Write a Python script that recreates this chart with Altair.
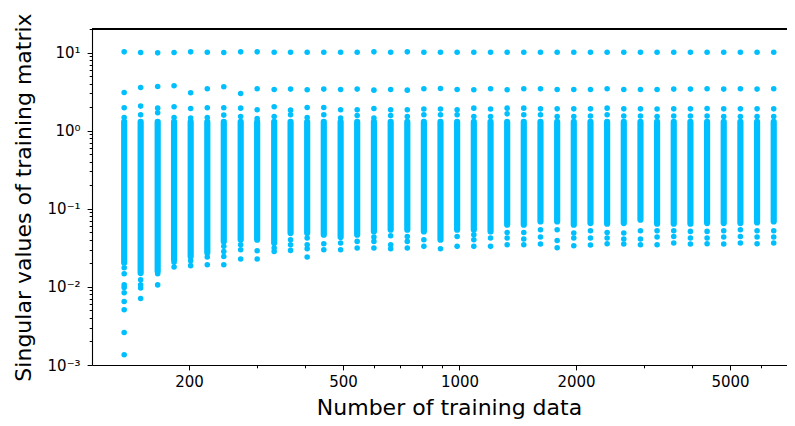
import altair as alt
import pandas as pd

# Number of training data (one column of points per value)
n_train = [136, 150, 166, 183, 202, 223, 246, 272, 300, 332, 366, 404, 446, 493,
           544, 601, 664, 733, 809, 893, 986, 1089, 1203, 1328, 1466, 1619, 1788,
           1974, 2180, 2407, 2658, 2935, 3240, 3578, 3951, 4363, 4817, 5319, 5874, 6486]

# Largest singular values (individually visible points)
sv_1 = [10.2, 10.0, 9.9, 10.0, 10.2, 10.1, 10.0, 10.2, 10.2, 10.1, 10.1, 10.1, 10.1, 10.1,
        10.1, 10.2, 10.1, 10.2, 10.1, 10.1, 10.1, 10.1, 10.1, 10.1, 10.1, 10.1, 10.1,
        10.1, 10.1, 10.1, 10.1, 10.1, 10.1, 10.1, 10.1, 10.1, 10.1, 10.1, 10.1, 10.1]
sv_2 = [3.08, 3.57, 3.67, 3.75, 3.05, 3.43, 3.64, 2.99, 3.43, 3.36, 3.40, 3.33, 3.40, 3.36,
        3.40, 3.30, 3.36, 3.30, 3.43, 3.46, 3.36, 3.33, 3.43, 3.33, 3.43, 3.43, 3.36,
        3.36, 3.36, 3.43, 3.36, 3.36, 3.36, 3.40, 3.40, 3.43, 3.40, 3.43, 3.40, 3.43]
sv_3 = [1.96, 2.06, 1.94, 2.02, 1.92, 1.96, 1.96, 1.94, 1.85, 2.02, 1.83, 1.98, 1.98, 1.85,
        1.85, 1.92, 1.85, 1.85, 1.89, 1.89, 1.85, 1.94, 1.89, 1.94, 1.94, 1.90, 1.90,
        1.90, 1.90, 1.94, 1.90, 1.90, 1.89, 1.90, 1.90, 1.92, 1.90, 1.90, 1.90, 1.90]
sv_4 = [1.47, 1.60, 1.69, 1.47, 1.45, 1.47, 1.58, 1.52, 1.43, 1.52, 1.60, 1.47, 1.60, 1.45,
        1.56, 1.45, 1.56, 1.52, 1.60, 1.60, 1.60, 1.52, 1.52, 1.64, 1.60, 1.60, 1.52,
        1.52, 1.54, 1.60, 1.54, 1.54, 1.52, 1.54, 1.54, 1.54, 1.52, 1.52, 1.52, 1.52]

# Dense run of singular values: top and bottom of the solid stack
band_top = [1.30, 1.30, 1.30, 1.30, 1.30, 1.30, 1.30, 1.30, 1.30, 1.30, 1.30, 1.30, 1.30, 1.30,
            1.30, 1.30, 1.30, 1.30, 1.30, 1.30, 1.30, 1.30, 1.30, 1.30, 1.30, 1.30, 1.30,
            1.30, 1.30, 1.30, 1.30, 1.30, 1.30, 1.30, 1.30, 1.30, 1.30, 1.30, 1.30, 1.30]
band_bottom = [0.0204, 0.0150, 0.0158, 0.0222, 0.0245, 0.0274, 0.0382, 0.0401, 0.0401, 0.0364,
               0.0489, 0.0489, 0.0465, 0.0434, 0.0465, 0.0513, 0.0539, 0.0539, 0.0513, 0.0401,
               0.0539, 0.0539, 0.0513, 0.0624, 0.0624, 0.0689, 0.0689, 0.0624, 0.0656, 0.0643,
               0.0656, 0.0723, 0.0643, 0.0643, 0.0643, 0.0656, 0.0656, 0.0656, 0.0668, 0.0689]

# Smallest singular values below the dense stack
tail_values = [
    [0.0176, 0.0147, 0.0106, 0.0098, 0.0084, 0.0065, 0.0051, 0.0026, 0.00135],
    [0.0123, 0.0106, 0.0097, 0.0071],
    [0.0147, 0.0106],
    [0.0206, 0.0180],
    [0.0216, 0.0187],
    [0.0241, 0.0192],
    [0.0330, 0.0284, 0.0245, 0.0192],
    [0.0346, 0.0299, 0.0227],
    [0.0290, 0.0227],
    [0.0314, 0.0284],
    [0.0401, 0.0346, 0.0293],
    [0.0422, 0.0346, 0.0308, 0.0241],
    [0.0357, 0.0299],
    [0.0364, 0.0299],
    [0.0382, 0.0314],
    [0.0434, 0.0382, 0.0314],
    [0.0451, 0.0346, 0.0308],
    [0.0442, 0.0382, 0.0314],
    [0.0401, 0.0330],
    [0.0308],
    [0.0442, 0.0330],
    [0.0465, 0.0401, 0.0330],
    [0.0422, 0.0330],
    [0.0497, 0.0422, 0.0346],
    [0.0497, 0.0410, 0.0346],
    [0.0539, 0.0434, 0.0353],
    [0.0539, 0.0393, 0.0317],
    [0.0489, 0.0422, 0.0336],
    [0.0523, 0.0422, 0.0343],
    [0.0497, 0.0422, 0.0357],
    [0.0489, 0.0410, 0.0353],
    [0.0523, 0.0410, 0.0346],
    [0.0523, 0.0434, 0.0346],
    [0.0523, 0.0442, 0.0364],
    [0.0513, 0.0422, 0.0353],
    [0.0513, 0.0422, 0.0357],
    [0.0523, 0.0434, 0.0353],
    [0.0539, 0.0442, 0.0364],
    [0.0523, 0.0434, 0.0357],
    [0.0523, 0.0434, 0.0364],
]

x_major = [200, 500, 1000, 2000, 5000]
x_minor = [300, 400, 600, 700, 800, 900, 3000, 4000, 6000, 7000]
y_major = [0.001, 0.01, 0.1, 1, 10]
y_minor = [0.002, 0.003, 0.004, 0.005, 0.006, 0.007, 0.008, 0.009,
           0.02, 0.03, 0.04, 0.05, 0.06, 0.07, 0.08, 0.09,
           0.2, 0.3, 0.4, 0.5, 0.6, 0.7, 0.8, 0.9,
           2, 3, 4, 5, 6, 7, 8, 9, 20]

rows = []
for i, n in enumerate(n_train):
    for v in [sv_1[i], sv_2[i], sv_3[i], sv_4[i]] + tail_values[i]:
        rows.append({"n": n, "sv": v})
points = pd.DataFrame(rows)
bands = pd.DataFrame({"n": n_train, "lo": band_bottom, "hi": band_top})

W, H = 695, 336
COLOR = "#00BFFF"
FONT = "DejaVu Sans"

xs = alt.Scale(type="log", domain=[112.3, 7019], nice=False, zero=False)
ys = alt.Scale(type="log", domain=[0.001, 20], nice=False, zero=False)

y_label_expr = ("datum.value >= 5 ? '10\u00b9' : datum.value >= 0.5 ? '10\u2070' : "
                "datum.value >= 0.05 ? '10\u207b\u00b9' : datum.value >= 0.005 ? '10\u207b\u00b2' : '10\u207b\u00b3'")

band_layer = alt.Chart(bands).mark_rule(
    color=COLOR, strokeWidth=6.2, strokeCap="round"
).encode(
    x=alt.X("n:Q", scale=xs, axis=alt.Axis(
        orient="bottom", values=x_minor, labels=False, ticks=True, tickSize=2.8,
        tickWidth=1, tickColor="black", domain=False, grid=False, title=None)),
    y=alt.Y("lo:Q", scale=ys, axis=alt.Axis(
        orient="left", values=y_minor, labels=False, ticks=True, tickSize=2.8,
        tickWidth=1, tickColor="black", domain=False, grid=False, title=None)),
    y2="hi:Q",
)

point_layer = alt.Chart(points).mark_circle(
    color=COLOR, size=31, opacity=1
).encode(
    x=alt.X("n:Q", scale=xs, axis=alt.Axis(
        orient="bottom", values=x_major, format="d", tickSize=4.9, tickWidth=1,
        tickColor="black", domain=True, domainColor="black", domainWidth=1.1,
        grid=False, labelFont=FONT, labelFontSize=15, labelColor="black",
        labelPadding=5, labelFlush=False, title="Number of training data",
        titleFont=FONT, titleFontSize=22, titleFontWeight="normal", titleColor="black",
        titleX=357, titleY=49, titleBaseline="alphabetic", titleAlign="center")),
    y=alt.Y("sv:Q", scale=ys, axis=alt.Axis(
        orient="left", values=y_major, labelExpr=y_label_expr, tickSize=4.9, tickWidth=1,
        tickColor="black", domain=True, domainColor="black", domainWidth=1.1,
        grid=False, labelFont=FONT, labelFontSize=15, labelColor="black",
        labelPadding=7, labelFlush=False, labelBaseline="middle",
        title="Singular values of training matrix",
        titleFont=FONT, titleFontSize=22, titleFontWeight="normal", titleColor="black",
        titleAngle=-90, titleX=-62, titleY=168, titleBaseline="alphabetic",
        titleAlign="center")),
)

top_spine = alt.Chart(bands).mark_rule(color="black", strokeWidth=1.1).encode(
    y=alt.value(0), x=alt.value(0), x2=alt.value(W)
)

chart = alt.layer(band_layer, point_layer, top_spine).resolve_axis(
    x="independent", y="independent"
).resolve_scale(x="shared", y="shared").properties(
    width=W, height=H,
    autosize=alt.AutoSizeParams(type="none"),
    padding={"left": 84, "top": 21, "right": 0, "bottom": 54},
).configure_view(stroke=None)

chart.save("out.html", embed_options={"renderer": "svg", "actions": False})
